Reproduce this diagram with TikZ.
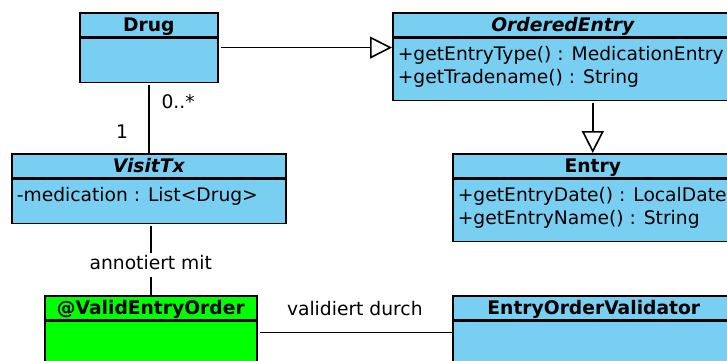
\documentclass[tikz,border=0pt]{standalone}
\usepackage{fontspec}
\setmainfont{DejaVu Sans}
\usetikzlibrary{arrows.meta}
\definecolor{classblue}{RGB}{121,207,242}
\definecolor{annogreen}{RGB}{0,255,0}
\newcommand{\members}[3]{\parbox[c][#1][t]{#2}{\strut #3\strut}}

\begin{document}
\begin{tikzpicture}[x=1pt, y=-1pt, line width=1.6pt,
    font=\fontsize{18.7}{23}\selectfont,
    classhead/.style={draw, fill=classblue, anchor=north west, inner sep=0pt,
        minimum height=24pt, text height=18.5pt, text depth=5.5pt,
        font=\fontsize{18.7}{23}\selectfont\bfseries},
    classbody/.style={draw, fill=classblue, anchor=north west, inner xsep=5pt, inner ysep=6pt},
    emptybody/.style={draw, fill=classblue, anchor=north west, inner sep=0pt, minimum height=44pt},
    realizes/.style={-{Triangle[length=22pt, width=22pt, fill=white]}}]
    \useasboundingbox (0,0) rectangle (727,360);
    \clip (0,0) rectangle (727,360);

    % Drug
    \node[classhead, minimum width=138pt] (drug) at (79,12) {Drug};
    \node[emptybody, minimum width=138pt] (drugbody) at (drug.south west) {};

    % OrderedEntry (abstract)
    \node[classhead, minimum width=340pt] (ordered) at (392,12) {\itshape OrderedEntry};
    \node[classbody] (orderedbody) at (ordered.south west)
        {\members{50pt}{330pt}{+getEntryType() : MedicationEntry\\+getTradename() : String}};

    % Entry
    \node[classhead, minimum width=280pt] (entry) at (452,153) {Entry};
    \node[classbody] (entrybody) at (entry.south west)
        {\members{50pt}{270pt}{+getEntryDate() : LocalDate\\+getEntryName() : String}};

    % VisitTx (abstract)
    \node[classhead, minimum width=274pt] (visittx) at (11,153) {\itshape VisitTx};
    \node[classbody] (visitbody) at (visittx.south west)
        {\members{32pt}{264pt}{-medication : List<Drug>}};

    % annotation and its validator
    \node[classhead, fill=annogreen, minimum width=212pt] (validorder) at (44,295) {@ValidEntryOrder};
    \node[emptybody, fill=annogreen, minimum width=212pt] (validbody) at (validorder.south west) {};
    \node[classhead, minimum width=282pt] (validator) at (452,295) {EntryOrderValidator};
    \node[emptybody, minimum width=282pt] (validatorbody) at (validator.south west) {};

    % connectors
    \draw[realizes] ([xshift=2pt, yshift=-10pt]drugbody.north east) -- ([yshift=-10pt]orderedbody.north west);
    \draw[realizes, shorten <=2pt] (orderedbody.south -| entry.north) -- (entry.north);
    \draw[shorten <=2pt] (drugbody.south) -- (visittx.north)
        node[pos=0.27, right=12pt, inner sep=0pt] {0..*}
        node[pos=0.7, left=20pt, inner sep=0pt] {1};
    \draw[shorten <=2pt] (visitbody.south -| validorder.north) -- (validorder.north)
        node[pos=0.57, fill=white, inner sep=3pt, text height=14pt, text depth=4pt] {annotiert mit};
    \draw[shorten <=2pt] ([yshift=-12pt]validbody.north east) -- ([yshift=-12pt]validatorbody.north west)
        node[midway, above=16pt, inner sep=0pt] {validiert durch};
\end{tikzpicture}
\end{document}
